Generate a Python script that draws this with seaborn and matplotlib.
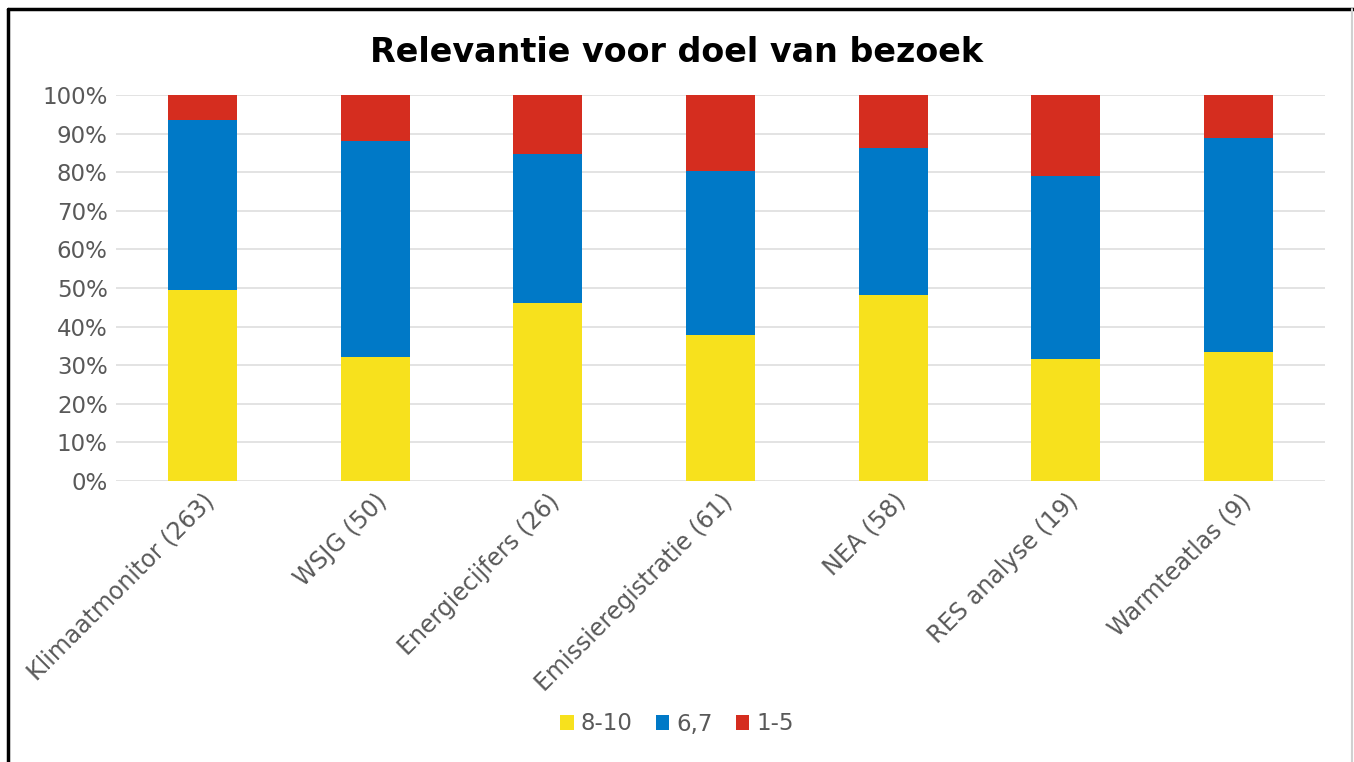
import matplotlib
matplotlib.use("Agg")
import matplotlib.pyplot as plt
from matplotlib.patches import Patch
from matplotlib.lines import Line2D
from matplotlib.ticker import PercentFormatter
import seaborn as sns
import numpy as np

# data (percentages per category)
categories = ["Klimaatmonitor (263)", "WSJG (50)", "Energiecijfers (26)",
              "Emissieregistratie (61)", "NEA (58)", "RES analyse (19)",
              "Warmteatlas (9)"]
score_8_10 = [49.4, 32.0, 46.2, 37.7, 48.3, 31.6, 33.3]
score_6_7 = [44.1, 56.0, 38.4, 42.6, 37.9, 47.4, 55.6]
score_1_5 = [6.5, 12.0, 15.4, 19.7, 13.8, 21.0, 11.1]
series_labels = ["8-10", "6,7", "1-5"]

col_yellow = "#F7E11D"
col_blue = "#0079C7"
col_red = "#D52D1F"

sns.set_style("white")
plt.rcParams["font.family"] = ["DejaVu Sans"]

fig = plt.figure(figsize=(13.54, 7.62), dpi=100)
ax = fig.add_axes([116 / 1354, 1 - 481 / 762, (1325 - 116) / 1354, (481 - 95) / 762])

# stacked bars: draw cumulative totals back to front
top = np.array(score_8_10) + np.array(score_6_7) + np.array(score_1_5)
mid = np.array(score_8_10) + np.array(score_6_7)
low = np.array(score_8_10)
for vals, c in [(top, col_red), (mid, col_blue), (low, col_yellow)]:
    sns.barplot(x=categories, y=vals, color=c, saturation=1, width=0.4,
                linewidth=0, ax=ax, zorder=3)

ax.set_xlim(-0.5, len(categories) - 0.5)
ax.set_ylim(0, 100)
ax.set_yticks(np.arange(0, 101, 10))
ax.yaxis.set_major_formatter(PercentFormatter(decimals=0))
ax.grid(axis="y", color="#E0E0E0", linewidth=1.3, zorder=0)
for s in ax.spines.values():
    s.set_visible(False)
ax.tick_params(axis="y", length=0, labelsize=16.5, labelcolor="#595959", pad=6)
ax.tick_params(axis="x", length=0, labelsize=17, labelcolor="#595959", pad=6)
ax.set_xticks(range(len(categories)))
ax.set_xticklabels(categories, rotation=45, ha="right", rotation_mode="anchor")
ax.set_xlabel("")
ax.set_ylabel("")

fig.text(0.5, 1 - 53 / 762, "Relevantie voor doel van bezoek", ha="center",
         va="center", fontsize=24, fontweight="bold", color="black")

handles = [Patch(facecolor=c, edgecolor="none") for c in (col_yellow, col_blue, col_red)]
fig.legend(handles, series_labels, loc="center", bbox_to_anchor=(0.5, 1 - 724 / 762),
           ncol=3, frameon=False, fontsize=16.5, handlelength=0.6, handleheight=0.6,
           handletextpad=0.3, columnspacing=1.0, labelcolor="#595959")

# outer frame
fig.add_artist(Line2D([8 / 1354, 8 / 1354], [0, 1 - 9 / 762], color="black", lw=2.5))
fig.add_artist(Line2D([8 / 1354, 1], [1 - 9 / 762, 1 - 9 / 762], color="black", lw=2.5))
fig.add_artist(Line2D([1352 / 1354, 1352 / 1354], [0, 1 - 9 / 762], color="#D0D0D0", lw=1.5))

fig.savefig("out.png", dpi=100)
